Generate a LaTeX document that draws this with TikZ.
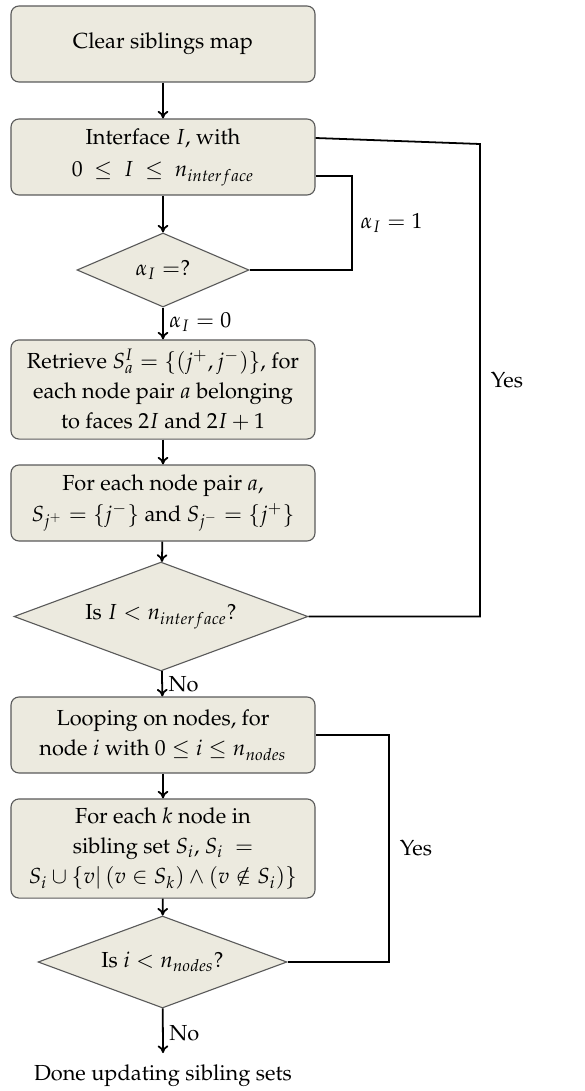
\documentclass[tikz,border=0pt]{standalone}
\usepackage[T1]{fontenc}
\usepackage{mathpazo}
\usetikzlibrary{shapes.geometric,calc,arrows.meta}
\definecolor{boxfill}{HTML}{ECEADF}
\definecolor{boxline}{HTML}{5A5A5A}
\begin{document}
\begin{tikzpicture}[x=0.45pt,y=-0.45pt,
  font=\fontsize{9.8pt}{13.6pt}\selectfont,
  stepbox/.style={draw=boxline,line width=0.5pt,fill=boxfill,rounded corners=3.6pt,
    minimum width=136.8pt,align=center,inner sep=0pt},
  choice/.style={draw=boxline,line width=0.5pt,fill=boxfill,shape=diamond,inner sep=0pt,
    aspect=2.3},
  flow/.style={line width=0.8pt,-{To[length=3.4pt,width=4.8pt]}},
  loop/.style={line width=0.8pt},
  lbl/.style={inner sep=2.5pt}]
\useasboundingbox (0,0) rectangle (584,1091);

\node[stepbox,minimum height=34.2pt] (clear) at (163,44) {Clear siblings map};
\node[stepbox,minimum height=34.2pt] (iface) at (163,157)
  {Interface $I$, with\\[1pt] $0\ \le\ I\ \le\ n_{interface}$};
\node[choice,minimum width=77.4pt,minimum height=33.3pt] (alpha) at (163,270) {$\alpha_I =?$};
\node[stepbox,minimum height=44.6pt] (retr) at (163,389.5)
  {Retrieve $S_a^I = \{(j^+,j^-)\}$, for\\ each node pair $a$ belonging\\ to faces $2I$ and $2I+1$};
\node[stepbox,minimum height=34.2pt] (pair) at (163,503)
  {For each node pair $a$,\\ $S_{j^+} = \{j^-\}$ and $S_{j^-} = \{j^+\}$};
\node[choice,minimum width=132.3pt,minimum height=49pt] (ilt) at (161,616.5)
  {Is $I < n_{interface}$?};
\node[stepbox,minimum height=34.2pt] (loopn) at (163,735)
  {Looping on nodes, for\\ node $i$ with $0 \le i \le n_{nodes}$};
\node[stepbox,minimum height=44.6pt] (each) at (163,848.5)
  {For each $k$ node in\\ sibling set $S_i$, $S_i\ =$\\ $S_i \cup \{v|\,(v\in S_k)\wedge(v\notin S_i)\}$};
\node[choice,minimum width=112pt,minimum height=41.4pt] (nlt) at (162.5,962)
  {Is $i < n_{nodes}$?};
\node[inner sep=0pt,anchor=north] (done) at (163,1064) {Done updating sibling sets};

% main flow
\draw[flow] (clear) -- (iface);
\draw[flow] (iface) -- (alpha);
\draw[flow] (alpha) -- node[lbl,right,pos=0.45] {$\alpha_I = 0$} (retr);
\draw[flow] (retr) -- (pair);
\draw[flow] (pair) -- (ilt);
\draw[flow] (ilt) -- node[lbl,right,pos=0.5] {No} (loopn);
\draw[flow] (loopn) -- (each);
\draw[flow] (each) -- (nlt);
\draw[flow] (nlt) -- node[lbl,right,pos=0.55] {No} ($(done.north)+(0,-11)$);

% loop-backs
\coordinate (skipin) at ($(iface.east)+(0,19)$);
\draw[loop] (alpha.east) -- (352,270) -- node[lbl,right,pos=0.5,xshift=1pt] {$\alpha_I = 1$} (352,176) -- (skipin);
\coordinate (nextin) at ($(iface.east)+(0,-19)$);
\draw[loop] (ilt.east) -- (480,616.5) -- node[lbl,right,pos=0.5,xshift=2pt] {Yes} (480,144) -- (nextin);
\draw[loop] (nlt.east) -- (389,962) -- node[lbl,right,pos=0.5,xshift=2pt] {Yes} (389,735) -- (loopn.east);
\end{tikzpicture}
\end{document}
